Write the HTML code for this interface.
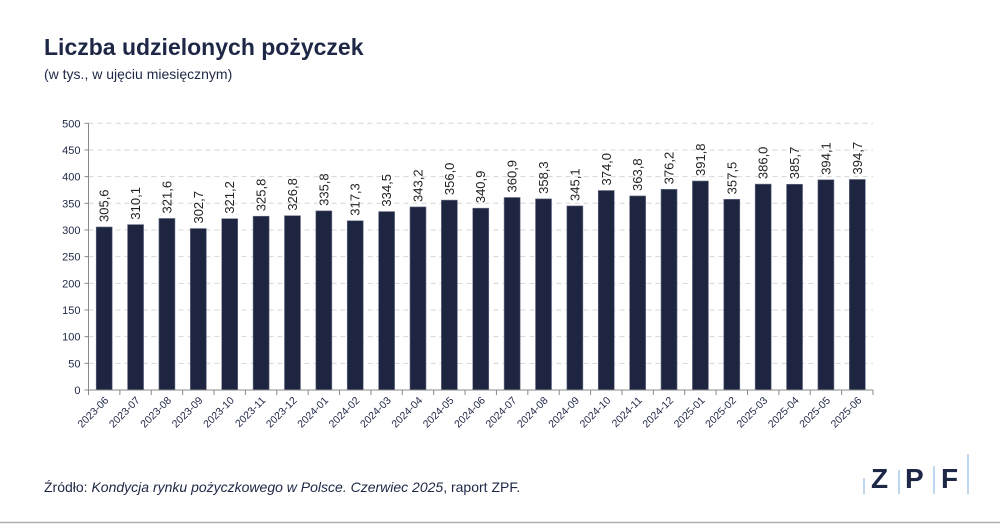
<!DOCTYPE html>
<html><head><meta charset="utf-8"><style>
body{margin:0;background:#fff;font-family:"Liberation Sans",sans-serif;}
#wrap{position:relative;width:1000px;height:525px;overflow:hidden;background:#fff}
</style></head><body>
<div id="wrap">
<svg id="chart" width="1000" height="525">
<text x="44" y="55" font-size="23" font-weight="bold" fill="#1e2746">Liczba udzielonych pożyczek</text>
<text x="44" y="79" font-size="14" fill="#1e2746">(w tys., w ujęciu miesięcznym)</text>
<g id="grid"></g>
<g id="bars"></g>
<g id="axes"></g>
<text x="44" y="492" font-size="14" fill="#1e2746">Źródło: <tspan font-style="italic">Kondycja rynku pożyczkowego w Polsce. Czerwiec 2025</tspan>, raport ZPF.</text>
<g>
<line x1="864" y1="478" x2="864" y2="494" stroke="#a9cbee" stroke-width="1.5"/>
<text x="871" y="488" font-size="28" font-weight="600" fill="#1e2746">Z</text>
<line x1="899" y1="470" x2="899" y2="494" stroke="#a9cbee" stroke-width="1.5"/>
<text x="905" y="488" font-size="28" font-weight="600" fill="#1e2746">P</text>
<line x1="934" y1="466" x2="934" y2="494" stroke="#a9cbee" stroke-width="1.5"/>
<text x="941" y="488" font-size="28" font-weight="600" fill="#1e2746">F</text>
<line x1="968" y1="454" x2="968" y2="494" stroke="#a9cbee" stroke-width="1.5"/>
</g>
<line x1="0" y1="522.5" x2="1000" y2="522.5" stroke="#b0b0b0" stroke-width="1.5"/>
</svg>
</div>
<script>
const categories=["2023-06","2023-07","2023-08","2023-09","2023-10","2023-11","2023-12","2024-01","2024-02","2024-03","2024-04","2024-05","2024-06","2024-07","2024-08","2024-09","2024-10","2024-11","2024-12","2025-01","2025-02","2025-03","2025-04","2025-05","2025-06"];
const values=[305.6,310.1,321.6,302.7,321.2,325.8,326.8,335.8,317.3,334.5,343.2,356.0,340.9,360.9,358.3,345.1,374.0,363.8,376.2,391.8,357.5,386.0,385.7,394.1,394.7];
const yTicks=[0,50,100,150,200,250,300,350,400,450,500];
const NS="http://www.w3.org/2000/svg";
const x0=88.5,x1=873,y0=390,y1=123.3,yMax=500;
const bw=(x1-x0)/categories.length;
const ys=v=>y0-(v/yMax)*(y0-y1);
const xc=i=>x0+bw*(i+0.5);
function mk(t,a,p){const e=document.createElementNS(NS,t);for(const k in a)e.setAttribute(k,a[k]);p.appendChild(e);return e;}
const grid=document.getElementById('grid'),bars=document.getElementById('bars'),axes=document.getElementById('axes');
yTicks.forEach(t=>{
 if(t>0){const g=mk('line',{x1:x0,x2:x1,y1:ys(t),y2:ys(t),stroke:'#d6d6d6','stroke-dasharray':'5,4'},grid);
 
 }
 mk('line',{x1:x0-4,x2:x0,y1:ys(t),y2:ys(t),stroke:'#888'},axes);
 const l=mk('text',{x:x0-8,y:ys(t)+4,'text-anchor':'end','font-size':11,fill:'#1e2746'},axes);l.textContent=t;
 
 
});
values.forEach((v,i)=>{
 const r=mk('rect',{x:xc(i)-8,y:ys(v),width:16,height:y0-ys(v),fill:'#1e2541',stroke:'#6b7188','stroke-width':0.6},bars);
 
 
 const tx=xc(i)+4.5,ty=ys(v)-5;
 const t=mk('text',{x:tx,y:ty,transform:`rotate(-90 ${tx} ${ty})`,'font-size':13,fill:'#222'},bars);
 t.textContent=v.toFixed(1).replace('.',',');
 
 
 const lx=xc(i)+5,ly=y0+11;
 const c=mk('text',{x:lx,y:ly,transform:`rotate(-45 ${lx} ${ly})`,'text-anchor':'end','font-size':10.5,fill:'#1e2746'},axes);
 c.textContent=categories[i];
 
 
});
for(let i=0;i<=categories.length;i++){const x=x0+bw*i;mk('line',{x1:x,x2:x,y1:y0,y2:y0+5,stroke:'#888'},axes);}
mk('line',{x1:x0,x2:x0,y1:y1,y2:y0,stroke:'#888'},axes);
mk('line',{x1:x0,x2:x1,y1:y0,y2:y0,stroke:'#888'},axes);
</script>
</body></html>
